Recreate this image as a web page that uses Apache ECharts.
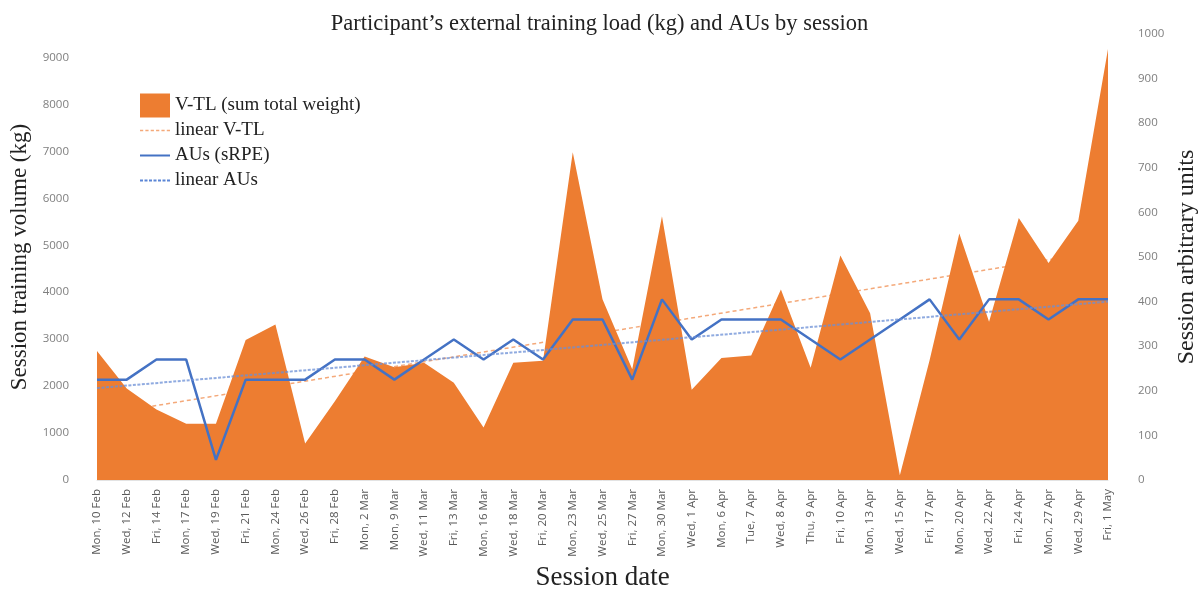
<!DOCTYPE html>
<html>
<head>
<meta charset="utf-8">
<script src="https://cdn.jsdelivr.net/npm/echarts@6/dist/echarts.min.js"></script>
<style>html,body{margin:0;padding:0;background:#fff}#c{width:1199px;height:592px}</style>
</head>
<body>
<div id="c"></div>
<script>
const categories = ['Mon, 10 Feb','Wed, 12 Feb','Fri, 14 Feb','Mon, 17 Feb','Wed, 19 Feb','Fri, 21 Feb','Mon, 24 Feb','Wed, 26 Feb','Fri, 28 Feb','Mon, 2 Mar','Mon, 9 Mar','Wed, 11 Mar','Fri, 13 Mar','Mon, 16 Mar','Wed, 18 Mar','Fri, 20 Mar','Mon, 23 Mar','Wed, 25 Mar','Fri, 27 Mar','Mon, 30 Mar','Wed, 1 Apr','Mon, 6 Apr','Tue, 7 Apr','Wed, 8 Apr','Thu, 9 Apr','Fri, 10 Apr','Mon, 13 Apr','Wed, 15 Apr','Fri, 17 Apr','Mon, 20 Apr','Wed, 22 Apr','Fri, 24 Apr','Mon, 27 Apr','Wed, 29 Apr','Fri, 1 May'];
const vtl = [2750,1950,1500,1200,1200,2980,3310,780,1680,2630,2400,2500,2070,1120,2500,2540,6980,3850,2360,5620,1920,2600,2650,4060,2390,4780,3550,100,2550,5250,3370,5580,4620,5520,9180];
const aus = [225,225,270,270,45,225,225,225,270,270,225,270,315,270,315,270,360,360,225,405,315,360,360,360,315,270,315,360,405,315,405,405,360,405,405];
const trendVTL = [1380, 4900];   // read at first and last session
const trendAUs = [206, 400];     // read at first and last session
const leftTicks = [0,1000,2000,3000,4000,5000,6000,7000,8000,9000];

const serif = 'Liberation Serif';
const sans = 'Open Sans';
const ORANGE = '#ED7D31', BLUE = '#4472C4';
const first = categories[0], last = categories[categories.length-1];

const dashPath = (seg, gap, h) => { let p='path://'; for (let x=0; x<30; x+=seg+gap) p += 'M'+x+',0h'+seg+'v'+h+'h-'+seg+'z'; return p; };

const chart = echarts.init(document.getElementById('c'), null, {renderer:'canvas'});
chart.setOption({
  animation:false,
  title:{text:'Participant\u2019s external training load (kg) and AUs by session', left:'center', top:8,
    textStyle:{fontFamily:serif, fontSize:22.5, fontWeight:'normal', color:'#222'}},
  legend:{orient:'vertical', left:135, top:88, itemWidth:30, itemHeight:24, itemGap:0,
    textStyle:{fontFamily:serif, fontSize:19, lineHeight:25, color:'#222'},
    data:[
      {name:'V-TL (sum total weight)', icon:'rect'},
      {name:'linear V-TL', icon:dashPath(3,2,1.2), itemStyle:{color:'#F4A97A'}},
      {name:'AUs (sRPE)', icon:'path://M0,0h30v2h-30z'},
      {name:'linear AUs', icon:dashPath(3,1.5,1.8), itemStyle:{color:'#5B86D6'}}
    ]},
  grid:{left:97, right:91, top:34, bottom:112, outerBoundsMode:'none', containLabel:false},
  xAxis:{type:'category', data:categories, boundaryGap:false,
    name:'Session date', nameLocation:'middle', nameGap:84,
    nameTextStyle:{fontFamily:serif, fontSize:27, color:'#222'},
    axisLine:{show:true, lineStyle:{color:'#e3e3e3'}}, axisTick:{show:false},
    axisLabel:{rotate:90, interval:0, fontFamily:sans, fontSize:11.5, color:'#595959', margin:9}},
  yAxis:[
    {type:'value', min:0, max:9500, interval:1000,
     name:'Session training volume (kg)', nameLocation:'middle', nameGap:66, nameRotate:90,
     nameTextStyle:{fontFamily:serif, fontSize:23, color:'#222'},
     splitLine:{show:false}, axisLine:{show:false}, axisTick:{show:false},
     axisLabel:{fontFamily:sans, fontSize:11.5, color:'#7f7f7f', margin:28,
       formatter:v => leftTicks.includes(v) ? String(v) : ''}},
    {type:'value', min:0, max:1000, interval:100,
     name:'Session arbitrary units', nameLocation:'middle', nameGap:55, nameRotate:90,
     nameTextStyle:{fontFamily:serif, fontSize:24, color:'#222'},
     splitLine:{show:false}, axisLine:{show:false}, axisTick:{show:false},
     axisLabel:{fontFamily:sans, fontSize:11.5, color:'#7f7f7f', margin:30, formatter:v => String(v)}}
  ],
  series:[
    {name:'linear V-TL', type:'line', yAxisIndex:0, z:1, showSymbol:false, symbol:'none',
     data:[[first,trendVTL[0]],[last,trendVTL[1]]],
     itemStyle:{color:'#F4A97A'}, lineStyle:{color:'#F4A97A', width:1.5, type:[4,3]}},
    {name:'V-TL (sum total weight)', type:'line', yAxisIndex:0, z:2, showSymbol:false, symbol:'none',
     data:vtl, itemStyle:{color:ORANGE}, lineStyle:{width:0, color:ORANGE}, areaStyle:{color:ORANGE, opacity:1}},
    {name:'AUs (sRPE)', type:'line', yAxisIndex:1, z:3, showSymbol:false, symbol:'none',
     data:aus, itemStyle:{color:BLUE}, lineStyle:{color:BLUE, width:2.5}},
    {name:'linear AUs', type:'line', yAxisIndex:1, z:4, showSymbol:false, symbol:'none',
     data:[[first,trendAUs[0]],[last,trendAUs[1]]],
     itemStyle:{color:'#5B86D6'}, lineStyle:{color:'#6b8fd6', width:2, type:[3,1.5], opacity:0.75}}
  ]
});
</script>
</body>
</html>
